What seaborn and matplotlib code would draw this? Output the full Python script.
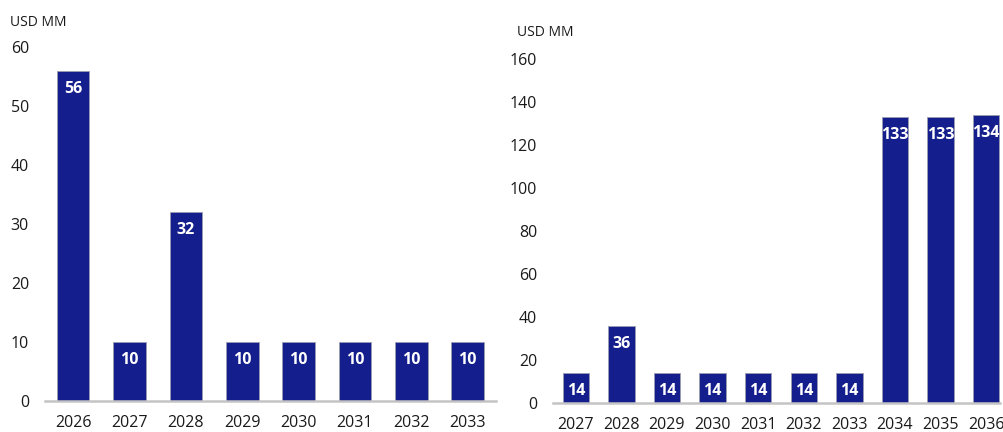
import seaborn as sns
import pandas as pd
import matplotlib.pyplot as plt

# dados
anos_esq = ["2026", "2027", "2028", "2029", "2030", "2031", "2032", "2033"]
valores_esq = [56, 10, 32, 10, 10, 10, 10, 10]

anos_dir = ["2027", "2028", "2029", "2030", "2031", "2032", "2033", "2034", "2035", "2036"]
valores_dir = [14, 36, 14, 14, 14, 14, 14, 133, 133, 134]

cor = "#141e8c"

sns.set_theme(style="white")
plt.rcParams["font.family"] = ["Open Sans", "DejaVu Sans"]

fig = plt.figure(figsize=(10.04, 4.32), dpi=100)
ax1 = fig.add_axes([0.0448, 0.0718, 0.449, 0.819])
ax2 = fig.add_axes([0.5508, 0.0671, 0.445, 0.796])


def desenha(ax, anos, valores, ymax, passo, xmax):
    df = pd.DataFrame({"Ano": anos, "Valor": valores})
    sns.barplot(data=df, x="Ano", y="Valor", color=cor, width=0.58,
                edgecolor="#9c9cb0", linewidth=0.6, saturation=1, ax=ax)
    ax.set_ylim(0, ymax)
    ax.set_xlim(-0.5, xmax)
    ax.set_yticks(range(0, ymax + 1, passo))
    ax.set_xlabel("")
    ax.set_ylabel("")
    for lado in ["top", "right", "left"]:
        ax.spines[lado].set_visible(False)
    ax.spines["bottom"].set_color("#c4c4c4")
    ax.spines["bottom"].set_linewidth(1.8)
    ax.tick_params(axis="both", length=0, labelsize=11.5, colors="#1a1a1a")
    ax.tick_params(axis="y", pad=11.5)
    ax.tick_params(axis="x", pad=10)
    for i, v in enumerate(valores):
        ax.annotate(str(v), (i, v), xytext=(0, -13), textcoords="offset points",
                    ha="center", va="center", color="white",
                    fontsize=11.5, fontweight="bold", fontstretch="normal")


desenha(ax1, anos_esq, valores_esq, 60, 10, 7.5)
desenha(ax2, anos_dir, valores_dir, 160, 20, 9.3)

fig.text(10 / 1004, 1 - 22 / 432, "USD MM", fontsize=10, color="#1a1a1a", va="center")
fig.text(517 / 1004, 1 - 32 / 432, "USD MM", fontsize=10, color="#1a1a1a", va="center")

fig.savefig("out.png", dpi=100)
